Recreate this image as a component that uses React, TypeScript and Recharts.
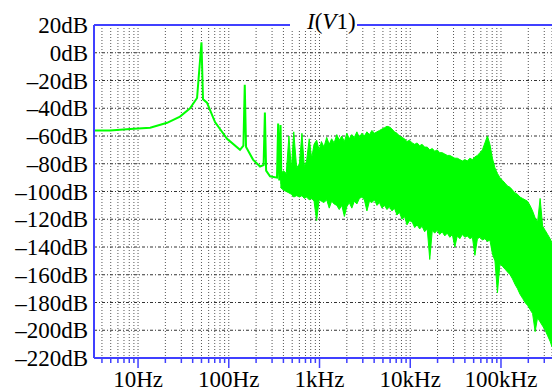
import React from "react";
import {
  ComposedChart,
  Line,
  Area,
  XAxis,
  YAxis,
  CartesianGrid,
  ReferenceLine,
} from "recharts";

const GREEN = "#00ff00";
const BLUE = "#4040ff";
const SERIF = "Liberation Serif";
const TXT = { fontFamily: SERIF, fontSize: 23, fill: "#000" };

// axis ticks
const DECADES = [1, 10, 100, 1000, 10000, 100000];
const MULTIPLES = [1, 2, 3, 4, 5, 6, 7, 8, 9];
const DECADE_LABELS: Record<number, string> = {
  10: "10Hz",
  100: "100Hz",
  1000: "1kHz",
  10000: "10kHz",
  100000: "100kHz",
};
const Y_TICKS = [20, 0, -20, -40, -60, -80, -100, -120, -140, -160, -180, -200, -220];

// low frequency part of I(V1) spectrum (Hz / dB)
const traceFreq = [
  3.27, 4.9, 8.2, 13.6, 20.9, 29, 37.4, 44.7, 50, 52, 57.5, 70.5, 95.7, 133,
  145, 150, 155, 185, 221, 242, 250, 258, 285, 340, 350, 360, 372, 380, 390,
];
const traceDb = [
  -56, -56, -55, -54, -50.5, -46, -40, -32.6, 7.5, -33.5, -36, -50, -62, -70,
  -67, -23, -68, -77, -82, -81, -43, -85, -89, -90, -51, -92, -52, -94, -95,
];

// noisy band above ~370Hz: upper and lower envelope (Hz / dB)
const bandFreq = [
  370, 400, 430, 460, 490, 520, 560, 600, 640, 680, 720, 770, 820, 870, 930, 990,
  1050, 1120, 1200, 1280, 1360, 1450, 1550, 1650, 1760, 1880, 2000, 2130, 2270,
  2420, 2580, 2750, 2930, 3120, 3330, 3550, 3780, 4030, 4300, 4580, 4880, 5200,
  5540, 5900, 6290, 6700, 7140, 7610, 8110, 8640, 9210, 9820,
  10500, 11200, 11900, 12700, 13500, 14400, 15400, 16400, 17500, 18600, 19800,
  21100, 22500, 24000, 25600, 27300, 29100, 31000, 33000, 35200, 37500, 40000,
  42600, 45400, 48400, 51600, 55000, 58600, 62400, 66500, 70900, 75500, 80500,
  85800, 91400, 97400,
  104000, 111000, 118000, 126000, 134000, 143000, 152000, 162000, 173000,
  184000, 196000, 209000, 223000, 238000, 253000, 270000, 288000, 307000,
  327000, 348000, 365000,
];
const bandHigh = [
  -88, -85, -87, -60, -84, -57, -83, -80, -58, -82, -78, -62, -76, -66, -63, -70,
  -64, -68, -61, -66, -62, -65, -59, -63, -60, -64, -58, -62, -59,
  -61, -57, -61, -58, -60, -57, -59, -56, -58, -57, -56, -55, -54,
  -53, -53.5, -55, -57, -58, -60, -61, -62, -64, -63,
  -65, -66, -65, -67, -66, -68, -68, -70, -69, -71, -70,
  -72, -72, -73, -74, -74, -75, -76, -76, -77, -78, -77,
  -78, -76, -77, -75, -74, -72, -70, -65, -60, -66, -76,
  -83, -87, -90,
  -92, -94, -96, -97, -99, -101, -102, -104, -105,
  -106, -107, -110, -114, -119, -122, -105, -125, -128,
  -131, -134, -137,
];
const bandLow = [
  -97, -99, -100, -101, -102, -104, -103, -104, -103, -105, -104, -106, -105, -107, -121, -106,
  -107, -108, -106, -112, -107, -109, -110, -113, -110, -118, -111, -108, -112,
  -107, -109, -105, -104, -106, -114, -107, -108, -106, -110, -108, -112, -110,
  -113, -111, -114, -112, -117, -115, -120, -118, -124, -121,
  -122, -126, -124, -127, -125, -129, -127, -149, -128, -130, -128,
  -131, -129, -132, -130, -133, -131, -140, -132, -134, -131, -133,
  -132, -134, -133, -146, -134, -133, -135, -134, -136, -135, -145,
  -150, -173, -152,
  -154, -156, -158, -160, -163, -167, -170, -174, -177,
  -180, -182, -185, -188, -201, -191, -194, -197, -200,
  -204, -208, -212,
];

const xTicks = DECADES.flatMap((d) => MULTIPLES.map((m) => d * m)).filter(
  (v) => v >= 3.27 && v <= 365000
);
const traceData = traceFreq.map((f, i) => ({ f, db: traceDb[i] }));
const bandData = bandFreq.map((f, i) => ({ f, range: [bandLow[i], bandHigh[i]] }));

const BottomTick = (props: any) => {
  const { x, y, payload } = props;
  const label = DECADE_LABELS[payload.value];
  return (
    <g>
      <line x1={x} x2={x} y1={y} y2={y + (label ? 10 : 5)} stroke={BLUE} strokeWidth={1.5} />
      {label && (
        <text x={x} y={y + 29} textAnchor="middle" fontFamily={SERIF} fontSize={23} style={TXT}>
          {label}
        </text>
      )}
    </g>
  );
};

const TopTick = (props: any) => {
  const { x, y } = props;
  return <line x1={x} x2={x} y1={y} y2={y + 5} stroke="#333" strokeWidth={1} />;
};

const LeftTick = (props: any) => {
  const { x, y, payload } = props;
  const v = payload.value as number;
  const txt = (v < 0 ? "\u2013" + Math.abs(v) : String(v)) + "dB";
  return (
    <text x={x} y={y + 8} textAnchor="end" fontFamily={SERIF} fontSize={23} style={TXT}>
      {txt}
    </text>
  );
};

export default function App() {
  return (
    <div
      style={{
        position: "absolute",
        left: 0,
        top: 0,
        width: 552,
        height: 391,
        background: "#fff",
        fontFamily: SERIF,
        fontSize: 23,
      }}
    >
      <ComposedChart
        width={552}
        height={391}
        margin={{ top: 25, right: 0, bottom: 0, left: 0 }}
        style={{ fontFamily: SERIF }}
      >
        <CartesianGrid horizontal={false} stroke="#555" strokeDasharray="1 2" />
        <CartesianGrid vertical={false} stroke="#333" strokeDasharray="3 2 1 2" />
        <XAxis
          dataKey="f"
          type="number"
          scale="log"
          domain={[3.27, 365000]}
          allowDataOverflow
          ticks={xTicks}
          interval={0}
          tick={<BottomTick />}
          tickLine={false}
          tickSize={0}
          tickMargin={0}
          height={33}
          axisLine={{ stroke: BLUE, strokeWidth: 2 }}
        />
        <XAxis
          xAxisId="top"
          orientation="top"
          dataKey="f"
          type="number"
          scale="log"
          domain={[3.27, 365000]}
          allowDataOverflow
          ticks={xTicks}
          interval={0}
          tick={<TopTick />}
          tickLine={false}
          tickSize={0}
          tickMargin={0}
          height={0}
          axisLine={false}
        />
        <YAxis
          type="number"
          domain={[-220, 20]}
          ticks={Y_TICKS}
          interval={0}
          width={94}
          tick={<LeftTick />}
          tickLine={false}
          tickSize={0}
          tickMargin={6}
          axisLine={{ stroke: BLUE, strokeWidth: 2 }}
          allowDataOverflow
        />
        <ReferenceLine y={20} stroke={BLUE} strokeWidth={2} />
        <Area
          data={bandData}
          dataKey="range"
          type="linear"
          stroke={GREEN}
          strokeWidth={1}
          fill={GREEN}
          fillOpacity={1}
          isAnimationActive={false}
          dot={false}
          activeDot={false}
        />
        <Line
          data={traceData}
          dataKey="db"
          type="linear"
          stroke={GREEN}
          strokeWidth={2}
          dot={false}
          activeDot={false}
          isAnimationActive={false}
        />
      </ComposedChart>
      <svg width={552} height={391} style={{ position: "absolute", left: 0, top: 0, pointerEvents: "none" }}>
        <rect x={290} y={4} width={67} height={26} fill="#fff" />
        <text x={307} y={29} style={TXT}>
          <tspan fontStyle="italic">I</tspan>(<tspan fontStyle="italic">V</tspan>1)
        </text>
      </svg>
    </div>
  );
}
